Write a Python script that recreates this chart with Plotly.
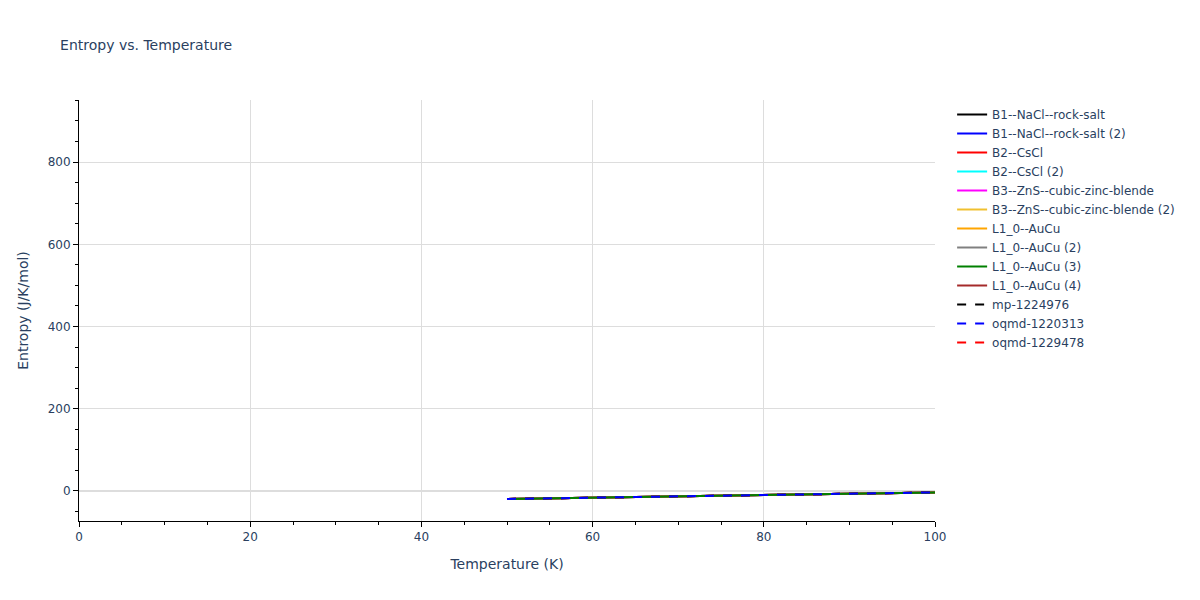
import plotly.graph_objects as go

temperature = [50, 60, 70, 80, 90, 100]

names = [
    "B1--NaCl--rock-salt",
    "B1--NaCl--rock-salt (2)",
    "B2--CsCl",
    "B2--CsCl (2)",
    "B3--ZnS--cubic-zinc-blende",
    "B3--ZnS--cubic-zinc-blende (2)",
    "L1_0--AuCu",
    "L1_0--AuCu (2)",
    "L1_0--AuCu (3)",
    "L1_0--AuCu (4)",
    "mp-1224976",
    "oqmd-1220313",
    "oqmd-1229478",
]
colors = ["black", "blue", "red", "cyan", "magenta", "#f0c030", "orange",
          "gray", "green", "brown", "black", "blue", "red"]
dashes = ["solid"] * 10 + ["dash"] * 3

entropy = [-19.5, -16.2, -12.9, -9.8, -6.6, -3.4]
series = {n: entropy for n in names}

# drawing order: visible lines on top; legend order kept via legendrank
draw_order = [0, 1, 2, 3, 4, 5, 6, 7, 9, 10, 12, 8, 11]

fig = go.Figure()
for i in draw_order:
    n = names[i]
    fig.add_trace(go.Scatter(
        x=temperature, y=series[n], mode="lines", name=n,
        line=dict(color=colors[i], dash=dashes[i], width=2),
        legendrank=1000 + i,
    ))

axis_common = dict(
    showline=True, linecolor="black", linewidth=1,
    ticks="outside", tickcolor="black", ticklen=5,
    gridcolor="#dddddd", showgrid=True,
    minor=dict(ticks="outside", ticklen=3, tickcolor="black", showgrid=False),
)

fig.update_layout(
    template="plotly_white",
    title=dict(text="Entropy vs. Temperature", x=0.044, font=dict(size=14),
               y=0.937, yanchor="middle"),
    xaxis=dict(title=dict(text="Temperature (K)", font=dict(size=14)),
               range=[0, 100], dtick=20, zeroline=False, **axis_common),
    yaxis=dict(title=dict(text="Entropy (J/K/mol)", font=dict(size=14)),
               range=[-73, 951], dtick=200,
               zeroline=True, zerolinecolor="#dddddd", zerolinewidth=2,
               **axis_common),
    font=dict(family="DejaVu Sans, Verdana, sans-serif", color="#2a3f5f", size=12),
    legend=dict(x=1.02, y=1, xanchor="left", yanchor="top"),
    margin=dict(l=71, r=255, t=92, b=71),
)

fig.write_html("out.html")
